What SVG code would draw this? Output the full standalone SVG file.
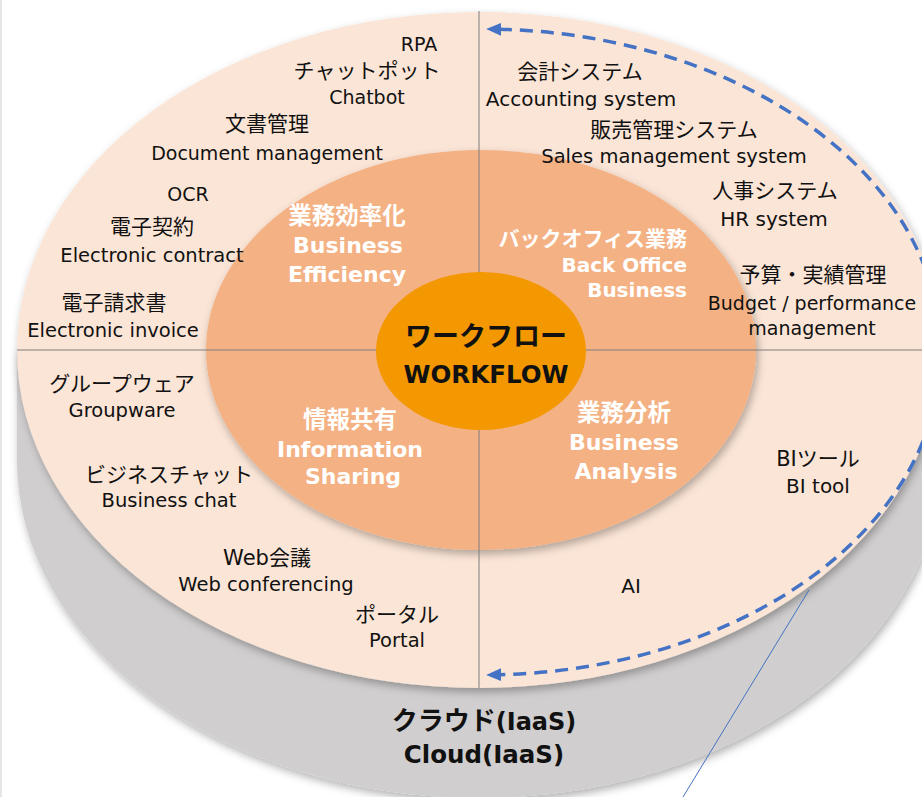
<svg xmlns="http://www.w3.org/2000/svg" width="922" height="797" viewBox="0 0 922 797">
<defs>
<style>
.t{font-family:"DejaVu Sans","Noto Sans CJK JP",sans-serif;font-size:19px;fill:#111;text-anchor:middle}
.j{font-size:21px}
.w{fill:#fff;font-weight:bold;font-size:22px}
.wj{font-size:23.5px}
.b{font-weight:bold;fill:#111}
.ax{stroke:#7f7f7f;stroke-width:1;fill:none}
.flow{fill:none;stroke:#4472c4;stroke-width:3.5;stroke-dasharray:13 8}
</style>
<filter id="sh" x="-10%" y="-10%" width="120%" height="125%">
<feDropShadow dx="2" dy="4" stdDeviation="4" flood-color="#000" flood-opacity="0.3"/>
</filter>
<marker id="ah" viewBox="0 0 14 12" refX="2" refY="6" markerWidth="15" markerHeight="13" markerUnits="userSpaceOnUse" orient="auto-start-reverse">
<path d="M0,0 L14,6 L0,12 Z" fill="#4472c4"/>
</marker>
</defs>
<rect width="922" height="797" fill="#fff"/>
<rect x="0" y="0" width="2" height="797" fill="#e6e6e6"/>
<g id="cylinder">
<path d="M17,350 L17,460 A462,338 0 0 0 941,460 L941,350 Z" fill="#d0cece" filter="url(#sh)"/>
</g>
<g id="top-disk">
<ellipse cx="479" cy="350" rx="462" ry="338" fill="#fbe5d6" filter="url(#sh)"/>
</g>
<g id="inner-ring">
<ellipse cx="481" cy="350" rx="275" ry="200" fill="#f4b183" filter="url(#sh)"/>
</g>
<g id="axes">
<line class="ax" x1="17" y1="350" x2="922" y2="350"/>
<line class="ax" x1="479" y1="11" x2="479" y2="688"/>
</g>
<g id="center">
<ellipse cx="481" cy="351" rx="105" ry="79" fill="#f39800"/>
<text class="t b" x="486" y="346" style="font-size:27px">ワークフロー</text>
<text class="t b" x="486" y="383" style="font-size:24.5px">WORKFLOW</text>
</g>
<g id="q-efficiency">
<text class="t w wj" x="347" y="224">業務効率化</text>
<text class="t w" x="348" y="253">Business</text>
<text class="t w" x="347" y="282">Efficiency</text>
</g>
<g id="q-backoffice">
<text class="t w" x="687" y="246" style="text-anchor:end;font-size:21px">バックオフィス業務</text>
<text class="t w" x="687" y="272" style="text-anchor:end;font-size:20px">Back Office</text>
<text class="t w" x="687" y="297" style="text-anchor:end;font-size:20px">Business</text>
</g>
<g id="q-analysis">
<text class="t w wj" x="624" y="421">業務分析</text>
<text class="t w" x="624" y="450">Business</text>
<text class="t w" x="626" y="479">Analysis</text>
</g>
<g id="q-sharing">
<text class="t w wj" x="350" y="428">情報共有</text>
<text class="t w" x="350" y="457">Information</text>
<text class="t w" x="353" y="484">Sharing</text>
</g>
<g id="rpa">
<text class="t" x="419" y="51">RPA</text>
<text class="t j" x="367" y="78">チャットポット</text>
<text class="t" x="367" y="104">Chatbot</text>
</g>
<g id="document">
<text class="t j" x="267" y="131">文書管理</text>
<text class="t" x="267" y="160">Document management</text>
</g>
<g id="ocr">
<text class="t" x="188" y="201">OCR</text>
</g>
<g id="contract">
<text class="t j" x="152" y="234">電子契約</text>
<text class="t" x="152" y="262" style="font-size:19.5px">Electronic contract</text>
</g>
<g id="invoice">
<text class="t j" x="114" y="310">電子請求書</text>
<text class="t" x="113" y="337" style="font-size:19.5px">Electronic invoice</text>
</g>
<g id="groupware">
<text class="t j" x="122" y="391">グループウェア</text>
<text class="t" x="122" y="417" style="font-size:19.5px">Groupware</text>
</g>
<g id="bizchat">
<text class="t j" x="169" y="482">ビジネスチャット</text>
<text class="t" x="169" y="507" style="font-size:19.5px">Business chat</text>
</g>
<g id="webconf">
<text class="t j" x="267" y="565">Web会議</text>
<text class="t" x="266" y="591" style="font-size:19.5px">Web conferencing</text>
</g>
<g id="portal">
<text class="t j" x="397" y="622">ポータル</text>
<text class="t" x="397" y="647" style="font-size:19.5px">Portal</text>
</g>
<g id="accounting">
<text class="t j" x="580" y="79">会計システム</text>
<text class="t" x="581" y="106" style="font-size:20px">Accounting system</text>
</g>
<g id="sales">
<text class="t j" x="674" y="137">販売管理システム</text>
<text class="t" x="674" y="163" style="font-size:19.5px">Sales management system</text>
</g>
<g id="hr">
<text class="t j" x="775" y="198">人事システム</text>
<text class="t" x="774" y="226" style="font-size:20px">HR system</text>
</g>
<g id="budget">
<text class="t j" x="813" y="282">予算・実績管理</text>
<text class="t" x="812" y="310">Budget / performance</text>
<text class="t" x="812" y="335">management</text>
</g>
<g id="bi">
<text class="t j" x="818" y="466">BIツール</text>
<text class="t" x="818" y="493" style="font-size:20px">BI tool</text>
</g>
<g id="ai">
<text class="t" x="631" y="593" style="font-size:20px">AI</text>
</g>
<g id="cloud">
<text class="t b" x="484" y="730" style="font-size:24px"><tspan style="font-size:26px">クラウド</tspan>(IaaS)</text>
<text class="t b" x="484" y="763" style="font-size:24.5px">Cloud(IaaS)</text>
</g>
<g id="connectors">
<path class="flow" d="M499,29.2 A458,323 0 0 1 499,674.8" marker-start="url(#ah)" marker-end="url(#ah)"/>
<line x1="809" y1="590" x2="683" y2="797" stroke="#4472c4" stroke-width="1"/>
</g>
</svg>
